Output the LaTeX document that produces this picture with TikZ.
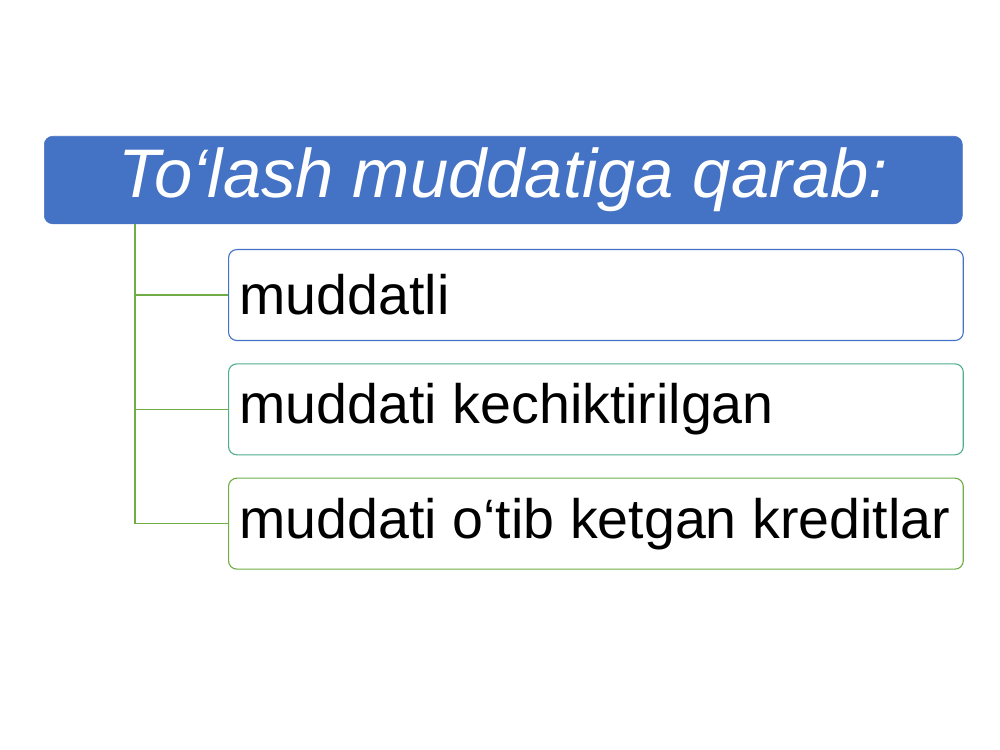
\documentclass[tikz,border=0pt]{standalone}
\usepackage{fontspec}
\setmainfont{Liberation Sans}
\usepackage{tikz}
\usetikzlibrary{positioning}
\usepackage{xcolor}
\definecolor{myblue}{RGB}{68,114,196}
\definecolor{myteal}{RGB}{79,175,140}
\definecolor{mygreen}{RGB}{112,173,71}

\begin{document}
\begin{tikzpicture}[x=0.72pt, y=-0.72pt,
        headbox/.style={fill=myblue, draw=myblue, rounded corners=6pt,
                minimum width=661pt, minimum height=63pt, inner sep=0pt,
                text=white, font=\fontsize{49.5}{56}\selectfont\itshape},
        itembox/.style={draw, fill=white, line width=0.8pt, rounded corners=6pt,
                minimum width=529pt, minimum height=65.5pt, inner xsep=8pt,
                execute at begin node={\hbox to 513pt\bgroup},
                execute at end node={\hfil\egroup},
                font=\fontsize{40}{46}\selectfont},
        conn/.style={draw=mygreen, line width=0.8pt}]

    \useasboundingbox (0,0) rectangle (1000,750);

    %H: heading
    \node[headbox, anchor=north west] (hd) at (44,136) {To‘lash muddatiga qarab:};

    % ------------------

    %I: items
    \node[itembox, draw=myblue, anchor=north west] (im1) at (228,249) {muddatli};
    \node[itembox, draw=myteal, below=16pt of im1] (im2) {muddati kechiktirilgan};
    \node[itembox, draw=mygreen, below=16pt of im2] (im3) {muddati o‘tib ketgan kreditlar};

    % ------------------

    % links
    \coordinate (trunk) at (135,224);
    \path[conn]
    (trunk) |- (im1.west)
    (trunk) |- (im2.west)
    (trunk) |- (im3.west)
    ;
\end{tikzpicture}
\end{document}
